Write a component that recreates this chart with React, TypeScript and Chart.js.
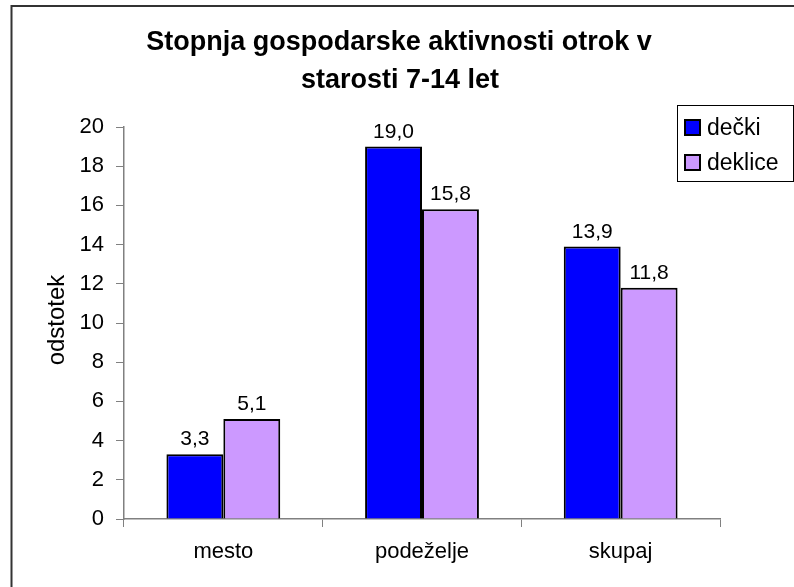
import React, { useEffect, useRef } from "react";
import { Chart, registerables } from "chart.js";

Chart.register(...registerables);

const categories = ["mesto", "podeželje", "skupaj"];
const seriesNames = ["dečki", "deklice"];
const deckiValues = [3.3, 19.0, 13.9];
const dekliceValues = [5.1, 15.8, 11.8];
const titleLines = ["Stopnja gospodarske aktivnosti otrok v", "starosti 7-14 let"];
const yAxisTitle = "odstotek";
const yMin = 0;
const yMax = 20;
const yStep = 2;

const FONT = 'Arial, "Liberation Sans", sans-serif';
const colors = ["#0000FF", "#CC99FF"];

const fmt = (v: number) => v.toFixed(1).replace(".", ",");

const overlayPlugin = {
  id: "overlay",
  afterDraw(chart: any) {
    const ctx = chart.ctx as CanvasRenderingContext2D;
    ctx.save();
    // frame (top and left edges visible)
    ctx.strokeStyle = "#333";
    ctx.lineWidth = 2;
    ctx.beginPath();
    ctx.moveTo(11.5, 600);
    ctx.lineTo(11.5, 6);
    ctx.lineTo(800, 6);
    ctx.stroke();

    // title
    ctx.fillStyle = "#000";
    ctx.font = `bold 27px ${FONT}`;
    ctx.textAlign = "center";
    ctx.textBaseline = "alphabetic";
    ctx.fillText(titleLines[0], 399, 50);
    ctx.fillText(titleLines[1], 400, 88);

    // y axis title
    ctx.save();
    ctx.translate(64, 320);
    ctx.rotate(-Math.PI / 2);
    ctx.font = `24px ${FONT}`;
    ctx.textAlign = "center";
    ctx.fillText(yAxisTitle, 0, 0);
    ctx.restore();

    // data labels
    ctx.font = `21px ${FONT}`;
    ctx.textAlign = "center";
    chart.data.datasets.forEach((ds: any, i: number) => {
      const meta = chart.getDatasetMeta(i);
      meta.data.forEach((el: any, j: number) => {
        ctx.fillText(fmt(ds.data[j]), el.x, el.y - 9);
      });
    });

    // legend
    ctx.strokeStyle = "#000";
    ctx.lineWidth = 1;
    ctx.strokeRect(677.5, 105.5, 116, 76);
    ctx.font = `23px ${FONT}`;
    ctx.textAlign = "left";
    chart.data.datasets.forEach((ds: any, i: number) => {
      const top = 120 + i * 35;
      ctx.fillStyle = ds.backgroundColor;
      ctx.fillRect(685, top, 15, 15);
      ctx.lineWidth = 2;
      ctx.strokeStyle = "#000";
      ctx.strokeRect(685, top, 15, 15);
      ctx.fillStyle = "#000";
      ctx.fillText(ds.label, 707, top + 15);
    });
    ctx.restore();
  },
};

export default function App() {
  const ref = useRef<HTMLCanvasElement | null>(null);
  useEffect(() => {
    if (!ref.current) return;
    const chart = new Chart(ref.current, {
      type: "bar",
      data: {
        labels: categories,
        datasets: [
          {
            label: seriesNames[0],
            data: deckiValues,
            backgroundColor: colors[0],
            borderColor: "#000",
            borderWidth: 2,
            categoryPercentage: 0.573,
            barPercentage: 1,
          },
          {
            label: seriesNames[1],
            data: dekliceValues,
            backgroundColor: colors[1],
            borderColor: "#000",
            borderWidth: 2,
            categoryPercentage: 0.573,
            barPercentage: 1,
          },
        ],
      },
      options: {
        responsive: false,
        animation: false,
        devicePixelRatio: 1,
        layout: { padding: { top: 127, right: 74, left: 0, bottom: 0 } },
        plugins: {
          legend: { display: false },
          title: { display: false },
          tooltip: { enabled: false },
        },
        scales: {
          x: {
            ticks: { font: { size: 22, family: FONT }, color: "#000", padding: 12 },
            grid: {
              drawOnChartArea: false,
              drawTicks: true,
              tickLength: 8,
              offset: true,
              color: "#808080",
              lineWidth: 1,
            },
            border: { display: true, color: "#808080", width: 1.5 },
            afterFit: (s: any) => {
              s.height = 68;
            },
          },
          y: {
            min: yMin,
            max: yMax,
            ticks: {
              stepSize: yStep,
              font: { size: 22, family: FONT },
              color: "#000",
              padding: 12,
            },
            grid: {
              drawOnChartArea: false,
              drawTicks: true,
              tickLength: 8,
              color: "#808080",
              lineWidth: 1,
            },
            border: { display: true, color: "#808080", width: 1.5 },
            afterFit: (s: any) => {
              s.width = 124;
            },
          },
        },
      },
      plugins: [overlayPlugin],
    });
    return () => chart.destroy();
  }, []);
  return (
    <canvas
      ref={ref}
      width={794}
      height={587}
      style={{ position: "fixed", left: 0, top: 0, display: "block", background: "#fff" }}
    />
  );
}
